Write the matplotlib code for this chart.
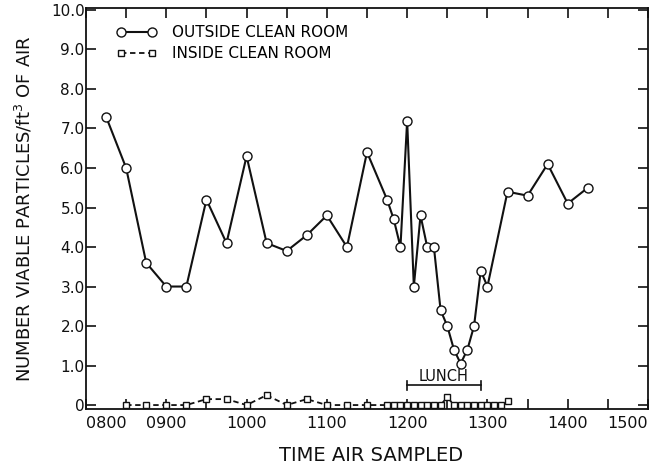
import matplotlib
matplotlib.use("Agg")
import matplotlib.pyplot as plt
import numpy as np

# ---- data (clock times as HHMM) ----
outside_times = [815, 830, 845, 900, 915, 930, 945, 1000, 1015, 1030, 1045, 1100,
                 1115, 1130, 1145, 1150, 1155, 1200, 1205, 1210, 1215, 1220, 1225,
                 1230, 1235, 1240, 1245, 1250, 1255, 1300, 1315, 1330, 1345, 1400, 1415]
outside_values = [7.3, 6.0, 3.6, 3.0, 3.0, 5.2, 4.1, 6.3, 4.1, 3.9, 4.3, 4.8,
                  4.0, 6.4, 5.2, 4.7, 4.0, 7.2, 3.0, 4.8, 4.0, 4.0, 2.4,
                  2.0, 1.4, 1.05, 1.4, 2.0, 3.4, 3.0, 5.4, 5.3, 6.1, 5.1, 5.5]

inside_times = [830, 845, 900, 915, 930, 945, 1000, 1015, 1030, 1045, 1100, 1115, 1130,
                1145, 1150, 1155, 1200, 1205, 1210, 1215, 1220, 1225, 1230, 1235,
                1240, 1245, 1250, 1255, 1300, 1305, 1310, 1315]
inside_values = [0, 0, 0, 0, 0.15, 0.15, 0, 0.25, 0, 0.15, 0, 0, 0,
                 0, 0, 0, 0, 0, 0, 0, 0, 0, 0.2, 0,
                 0, 0, 0, 0, 0, 0, 0, 0.1]

lunch_start, lunch_end = 1200, 1255
x_tick_times = [800, 900, 1000, 1100, 1200, 1300, 1400, 1500]
x_tick_labels = ["0800", "0900", "1000", "1100", "1200", "1300", "1400", "1500"]
y_ticks = [0, 1, 2, 3, 4, 5, 6, 7, 8, 9, 10]
y_tick_labels = ["0", "1.0", "2.0", "3.0", "4.0", "5.0", "6.0", "7.0", "8.0", "9.0", "10.0"]


def to_hours(t):
    t = np.asarray(t)
    return t // 100 + (t % 100) / 60.0


fig = plt.figure(figsize=(6.62, 4.68), dpi=100)
ax = fig.add_axes([86 / 662, 1 - 409 / 468, (648 - 86) / 662, (409 - 8) / 468])

ink = "#111111"
ax.plot(to_hours(outside_times), outside_values, color=ink, lw=1.5, marker="o",
        ms=6.5, mfc="white", mec=ink, mew=1.0, label="OUTSIDE CLEAN ROOM", zorder=3)
ax.plot(to_hours(inside_times), inside_values, color=ink, lw=1.3, ls=(0, (3, 2)),
        marker="s", ms=4.8, mfc="white", mec=ink, mew=1.0, label="INSIDE CLEAN ROOM",
        zorder=3)

# lunch bracket
ls_h, le_h = to_hours(lunch_start), to_hours(lunch_end)
ax.plot([ls_h, le_h], [0.5, 0.5], color=ink, lw=1.2)
ax.plot([ls_h, ls_h], [0.38, 0.6], color=ink, lw=1.2)
ax.plot([le_h, le_h], [0.38, 0.6], color=ink, lw=1.2)
ax.text((ls_h + le_h) / 2, 0.6, "LUNCH", ha="center", va="baseline",
        fontsize=10.5, color=ink)

ax.set_xlim(8, 15)
ax.set_ylim(-0.1, 10.05)

ax.set_xticks(to_hours(x_tick_times))
ax.set_xticklabels(x_tick_labels, fontsize=11.5)
ax.set_xticks(np.arange(8.5, 15, 1.0), minor=True)
lbls = ax.get_xticklabels()
lbls[0].set_ha("left")
lbls[-1].set_ha("right")

ax.set_yticks(y_ticks)
ax.set_yticklabels(y_tick_labels, fontsize=11)

ax.tick_params(axis="both", which="both", direction="in", length=7, width=1.2,
               top=True, right=True, colors=ink)
ax.tick_params(axis="x", which="major", pad=5)
ax.tick_params(axis="y", which="major", pad=1)

for s in ax.spines.values():
    s.set_linewidth(1.3)
    s.set_color(ink)

ax.set_xlabel("TIME AIR SAMPLED", fontsize=14, color=ink)
ax.xaxis.set_label_coords(0.507, -0.115)
ax.xaxis.label.set_va("center")
ax.set_ylabel(r"NUMBER VIABLE PARTICLES/ft$^3$ OF AIR", fontsize=13, color=ink)
ax.yaxis.set_label_coords(-0.11, 0.5)
ax.yaxis.label.set_va("center")

ax.legend(loc="upper left", bbox_to_anchor=(0.055, 0.957), frameon=False,
          fontsize=11, numpoints=2, handlelength=2.6, handletextpad=1.0,
          labelspacing=0.4, borderpad=0, borderaxespad=0)

fig.savefig("out.png", dpi=100, facecolor="white")
